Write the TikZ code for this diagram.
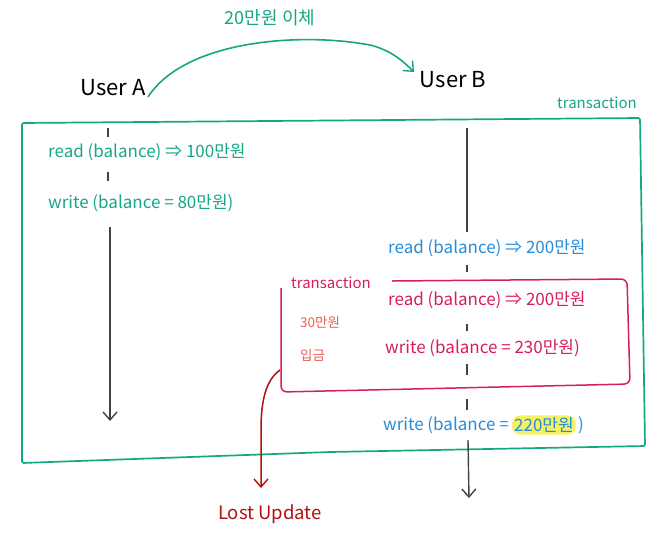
\documentclass[tikz,border=0pt]{standalone}
\usepackage{fontspec}
\setmainfont{Noto Sans CJK KR}
\usetikzlibrary{arrows.meta}
\definecolor{tealg}{RGB}{22,166,134}
\definecolor{blueb}{RGB}{38,140,218}
\definecolor{crim}{RGB}{214,30,90}
\definecolor{salm}{RGB}{232,96,90}
\definecolor{dred}{RGB}{176,16,16}
\definecolor{hl}{RGB}{246,240,100}
\definecolor{ink}{RGB}{60,68,70}
\begin{document}
\begin{tikzpicture}[x=1pt,y=-1pt,
  lbl/.style={inner sep=0pt, anchor=west, font=\fontsize{17}{19}\selectfont},
  small/.style={inner sep=0pt, font=\fontsize{15}{17}\selectfont},
  tiny/.style={inner sep=0pt, anchor=west, font=\fontsize{13.5}{15}\selectfont, text=salm},
  user/.style={inner sep=0pt, font=\fontsize{22}{24}\selectfont, text=black},
  life/.style={ink, line width=1.4pt},
  tip/.style={-{Straight Barb[length=8pt,width=14pt,line width=1.4pt]}},
  gbox/.style={tealg, line width=1.7pt, rounded corners=2pt},
  rbox/.style={crim, line width=1.5pt, rounded corners=6pt}]
\useasboundingbox (0,0) rectangle (660,552);

% outer transaction box
\draw[gbox] (22,123) -- (640,118) -- (645,446) -- (330,452) -- (22,463) -- cycle;
\node[small, text=tealg] (gtx) at (597,103) {transaction};

% users
\node[user] (userA) at (113,88) {User A};
\node[user] (userB) at (453,80) {User B};
\node[inner sep=0pt, text=tealg, font=\fontsize{18}{20}\selectfont] (transfer) at (270,18) {20만원 이체};
\draw[tealg, line width=1.6pt, tip] (148,97) .. controls (185,40) and (300,32) .. (370,45) .. controls (390,50) and (402,60) .. (414,72);

% User A texts
\node[lbl, text=tealg] (readA) at (48,152) {read (balance) ⇒ 100만원};
\node[lbl, text=tealg] (writeA) at (48,203) {write (balance = 80만원)};

% User A lifeline
\coordinate (a1) at (108,128); \coordinate (a2) at (108,137);
\coordinate (a3) at (108,172); \coordinate (a4) at (108,181);
\coordinate (a5) at (110,227); \coordinate (a6) at (110,421);
\draw[life] (a1) -- (a2);
\draw[life] (a3) -- (a4);
\draw[life, tip] (a5) -- (a6);

% User B texts
\node[lbl, text=blueb] (readB) at (388,248) {read (balance) ⇒ 200만원};
\node[small, text=crim] (rtx) at (331,283) {transaction};
\node[lbl, text=crim] (readT) at (388,300) {read (balance) ⇒ 200만원};
\node[lbl, text=crim] (writeT) at (385,348) {write (balance = 230만원)};
\node[tiny] (dep1) at (300,322) {30만원};
\node[tiny] (dep2) at (300,355) {입금};
\node[lbl, text=blueb] (writeB) at (383,425) {write (balance =};
\node[inner sep=2pt, anchor=west, fill=hl, rounded corners=8pt, text=blueb, font=\fontsize{17}{19}\selectfont] (hlv) at ([xshift=3pt]writeB.east) {220만원};
\node[inner sep=0pt, anchor=west, text=blueb, font=\fontsize{17}{19}\selectfont] (writeBend) at ([xshift=2pt]hlv.east) {)};

% inner transaction box
\draw[rbox] (392,281) -- (627,279) -- (630,384) -- (281,392) -- (281,288);

% User B lifeline
\coordinate (b1) at (467,128); \coordinate (b2) at (467,232);
\coordinate (b3) at (467,265); \coordinate (b4) at (467,272);
\coordinate (b5) at (467,324); \coordinate (b6) at (467,331);
\coordinate (b7) at (467,364); \coordinate (b8) at (467,375);
\coordinate (b9) at (467,399); \coordinate (b10) at (467,410);
\coordinate (b11) at (468,440); \coordinate (b12) at (469,498);
\draw[life] (b1) -- (b2);
\draw[life] (b3) -- (b4);
\draw[life] (b5) -- (b6);
\draw[life] (b7) -- (b8);
\draw[life] (b9) -- (b10);
\draw[life, tip] (b11) -- (b12);

% Lost update
\node[inner sep=0pt, text=dred, font=\fontsize{18.5}{20}\selectfont] (lost) at (270,514) {Lost Update};
\coordinate (ls) at (280,370);
\coordinate (le) at (261,488);
\draw[dred, line width=1.5pt, tip] (ls) .. controls (266,380) and (261,400) .. (261,430) -- (le);
\end{tikzpicture}
\end{document}
